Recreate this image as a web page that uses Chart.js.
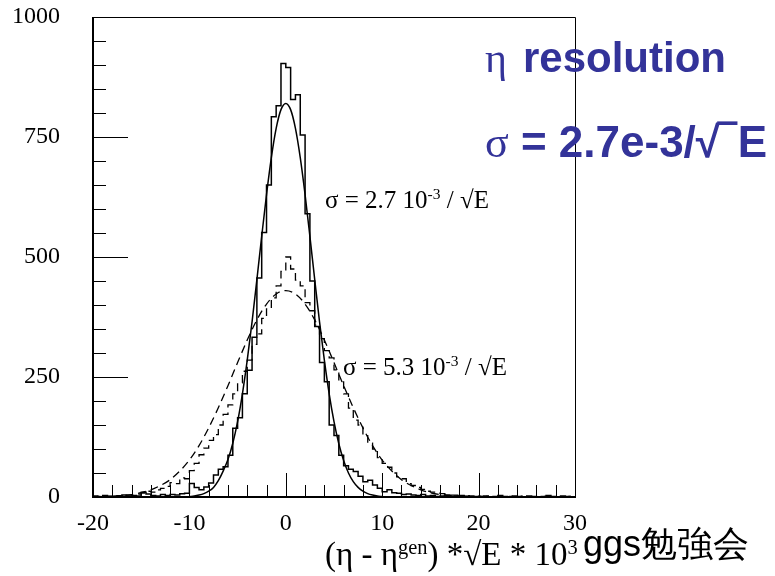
<!DOCTYPE html>
<html>
<head>
<meta charset="utf-8">
<script src="https://cdn.jsdelivr.net/npm/chart.js@4.4.1/dist/chart.umd.min.js"></script>
<style>
body{margin:0;background:#fff;}
#wrap{position:relative;width:775px;height:576px;overflow:hidden;}
#plot{position:absolute;left:0;top:0;}
.note{position:absolute;white-space:nowrap;line-height:1;}
.serif{font-family:"Liberation Serif","Times New Roman",serif;color:#000;}
.blue{font-family:"Liberation Sans",Arial,sans-serif;font-weight:bold;color:#333399;font-size:42px;}
.greek{font-family:"Liberation Serif",serif;font-weight:normal;}
sup{font-size:62%;vertical-align:0;position:relative;top:-0.55em;}
</style>
</head>
<body>
<div id="wrap">
<canvas id="plot" width="775" height="576"></canvas>
<div class="note blue" style="left:485px;top:37px;"><span class="greek" style="margin-right:16px;">η</span>resolution</div>
<div class="note blue" style="left:485px;top:120px;font-size:44px;"><span class="greek">σ</span> = 2.7e-3/√‾<span style="margin-left:3px;">E</span></div>
<div class="note serif" style="left:325px;top:187px;font-size:25px;">σ = 2.7 10<sup>-3</sup> / √E</div>
<div class="note serif" style="left:343px;top:354px;font-size:25px;">σ = 5.3 10<sup>-3</sup> / √E</div>
<div class="note serif" style="left:325px;top:538px;font-size:33px;">(η - η<sup>gen</sup>) *√E * 10<sup>3</sup></div>
<div class="note" style="left:583px;top:526px;font-size:36px;font-family:'Liberation Sans',Arial,sans-serif;color:#000;">ggs勉強会</div>
</div>
<script>
// histogram binning (bin low edges built from these)
const binStart = -20;
const binWidth = 0.5;

// counts per bin, -20 ... 30 (100 bins)
const narrowCounts = [
  2, 0, 3, 1, 0, 2, 4, 1, 3, 2,
  10, 6, 3, 2, 5, 3, 5, 4, 7, 8,
  28, 20, 15, 21, 29, 46, 58, 63, 87, 143,
  165, 215, 264, 333, 456, 551, 650, 792, 815, 903,
  895, 828, 838, 754, 590, 450, 355, 280, 240, 150,
  128, 87, 65, 58, 53, 43, 32, 35, 25, 18,
  11, 15, 9, 8, 5, 6, 4, 3, 5, 2,
  3, 1, 2, 4, 1, 2, 3, 1, 2, 0,
  1, 2, 0, 1, 3, 1, 0, 2, 1, 0,
  2, 1, 0, 1, 3, 1, 0, 2, 1, 0
];
const wideCounts = [
  0, 1, 0, 2, 1, 3, 2, 4, 3, 6,
  8, 12, 10, 15, 18, 22, 30, 28, 40, 38,
  55, 70, 88, 102, 118, 130, 150, 172, 192, 215,
  238, 262, 285, 318, 340, 372, 392, 415, 440, 470,
  500, 475, 452, 440, 405, 388, 358, 330, 305, 290,
  265, 240, 215, 185, 160, 150, 128, 112, 100, 82,
  70, 62, 50, 42, 38, 28, 24, 20, 16, 12,
  10, 8, 7, 5, 4, 4, 3, 2, 3, 1,
  2, 1, 0, 2, 1, 0, 1, 0, 2, 0,
  1, 0, 0, 1, 0, 1, 0, 0, 1, 0
];

// gaussian fit curves
const narrowFitX = [-10,-9.5,-9,-8.5,-8,-7.5,-7,-6.5,-6,-5.5,-5,-4.5,-4,-3.5,-3,-2.5,-2,-1.5,-1,-0.5,
  0,0.5,1,1.5,2,2.5,3,3.5,4,4.5,5,5.5,6,6.5,7,7.5,8,8.5,9,9.5,10];
const narrowFitY = [1,2,4,7,12,20,34,54,78,112,157,215,285,365,453,543,630,707,768,807,
  820,807,768,707,630,543,453,365,285,215,157,111,76,50,32,20,12,7,4,2,1];
const wideFitX = [-18,-17,-16,-15,-14,-13,-12,-11,-10,-9,-8,-7,-6,-5,-4,-3,-2,-1,
  0,1,2,3,4,5,6,7,8,9,10,11,12,13,14,15,16,17,18];
const wideFitY = [2,3,5,9,15,24,36,54,77,107,144,186,232,280,327,369,402,423,
  430,423,402,369,327,280,232,186,144,107,77,54,36,24,15,9,5,3,2];

// axes
const xTickValues = [-20, -10, 0, 10, 20, 30];
const yTickValues = [0, 250, 500, 750, 1000];

function histPoints(counts){
  let pts = counts.map((c, i) => ({x: binStart + i*binWidth, y: c}));
  pts.push({x: binStart + counts.length*binWidth, y: counts[counts.length-1]});
  return pts;
}

function curvePoints(xs, ys){
  return xs.map((x, i) => ({x: x, y: ys[i]}));
}

// ROOT style frame with inside tick marks
const frameTicks = {
  id: 'frameTicks',
  afterDatasetsDraw(chart){
    const {ctx, chartArea: a, scales} = chart;
    const x = scales.x, y = scales.y;
    ctx.save();
    ctx.strokeStyle = '#000';
    ctx.lineWidth = 1;
    ctx.beginPath();
    for(let v = 0; v <= 1000; v += 50){
      const py = Math.round(y.getPixelForValue(v)) + 0.5;
      const len = v % 250 === 0 ? 35 : 13;
      ctx.moveTo(a.left, py);
      ctx.lineTo(a.left + len, py);
    }
    for(let v = -20; v <= 30; v += 2){
      const px = Math.round(x.getPixelForValue(v)) + 0.5;
      const len = v % 10 === 0 ? 24 : 12;
      ctx.moveTo(px, a.bottom);
      ctx.lineTo(px, a.bottom - len);
    }
    ctx.stroke();
    // top and right edge
    ctx.beginPath();
    ctx.moveTo(a.left, a.top + 0.5);
    ctx.lineTo(a.right + 0.5, a.top + 0.5);
    ctx.lineTo(a.right + 0.5, a.bottom);
    ctx.stroke();
    // axis lines, a bit heavier
    ctx.lineWidth = 2;
    ctx.beginPath();
    ctx.moveTo(a.left, a.top);
    ctx.lineTo(a.left, a.bottom);
    ctx.lineTo(a.right + 1, a.bottom);
    ctx.stroke();
    ctx.restore();
  }
};

const tickFont = {family: "'Liberation Serif', 'Times New Roman', serif", size: 24};

new Chart(document.getElementById('plot'), {
  type: 'line',
  data: {
    datasets: [
      {
        label: 'narrow',
        data: histPoints(narrowCounts),
        stepped: true,
        borderColor: '#000',
        borderWidth: 1.5,
        pointRadius: 0,
        fill: false
      },
      {
        label: 'wide',
        data: histPoints(wideCounts),
        stepped: true,
        borderColor: '#000',
        borderWidth: 1.3,
        borderDash: [8, 5],
        pointRadius: 0,
        fill: false
      },
      {
        label: 'narrow fit',
        data: curvePoints(narrowFitX, narrowFitY),
        borderColor: '#000',
        borderWidth: 1.5,
        cubicInterpolationMode: 'monotone',
        pointRadius: 0,
        fill: false
      },
      {
        label: 'wide fit',
        data: curvePoints(wideFitX, wideFitY),
        borderColor: '#000',
        borderWidth: 1.3,
        borderDash: [8, 5],
        cubicInterpolationMode: 'monotone',
        pointRadius: 0,
        fill: false
      }
    ]
  },
  options: {
    responsive: false,
    animation: false,
    devicePixelRatio: 1,
    layout: {padding: {top: 17, right: 200, left: 0, bottom: 0}},
    plugins: {legend: {display: false}, tooltip: {enabled: false}},
    scales: {
      x: {
        type: 'linear',
        min: -20,
        max: 30,
        grid: {display: false, drawTicks: false},
        border: {display: false},
        afterBuildTicks: s => { s.ticks = xTickValues.map(v => ({value: v})); },
        afterFit: s => { s.height = 79; },
        ticks: {font: tickFont, color: '#000', padding: 12, maxRotation: 0, autoSkip: false,
          callback: v => String(v)}
      },
      y: {
        min: 0,
        max: 1000,
        grid: {display: false, drawTicks: false},
        border: {display: false},
        afterBuildTicks: s => { s.ticks = yTickValues.map(v => ({value: v})); },
        // keep the label padding from pushing the frame down
        afterFit: s => { s.width = 93; s.paddingTop = 0; s.paddingBottom = 0; },
        ticks: {font: tickFont, color: '#000', padding: 33, callback: v => String(v)}
      }
    }
  },
  plugins: [frameTicks]
});
</script>
</body>
</html>
